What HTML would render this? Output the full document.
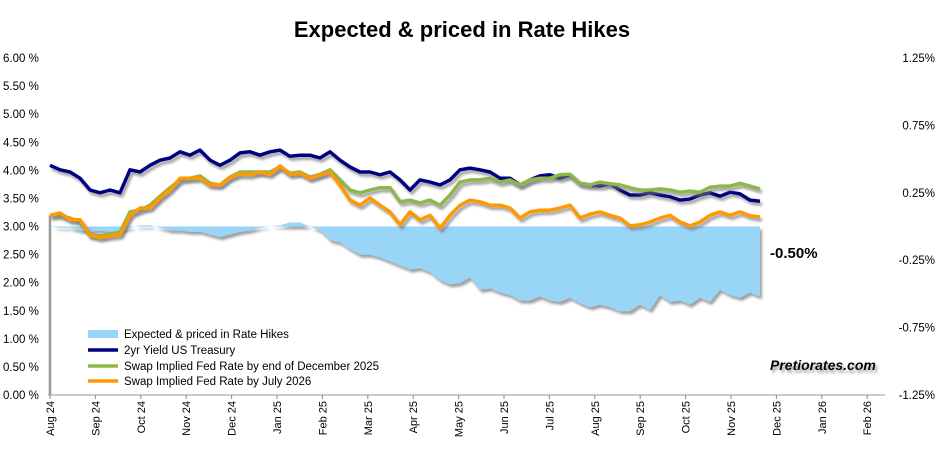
<!DOCTYPE html>
<html><head><meta charset="utf-8"><style>
body{margin:0;background:#fff;font-family:"Liberation Sans",sans-serif}
svg text{font-family:"Liberation Sans",sans-serif}
</style></head><body>
<svg id="chart" width="945" height="452" viewBox="0 0 945 452" xmlns="http://www.w3.org/2000/svg">
<defs><filter id="sh" x="-5%" y="-20%" width="110%" height="140%"><feDropShadow dx="2" dy="3" stdDeviation="1.2" flood-color="#777" flood-opacity="0.7"/></filter></defs>
<text x="462" y="37" text-anchor="middle" font-size="22" font-weight="bold">Expected &amp; priced in Rate Hikes</text>
<g id="axes"></g><g id="marks"></g>
<g font-size="11.5">
<rect x="88" y="330" width="30" height="8" fill="#99d5f7"/>
<text x="124" y="338">Expected &amp; priced in Rate Hikes</text>
<line x1="88" y1="350" x2="118" y2="350" stroke="#000080" stroke-width="3.5"/>
<text x="124" y="354">2yr Yield US Treasury</text>
<line x1="88" y1="366" x2="118" y2="366" stroke="#8db84a" stroke-width="3.5"/>
<text x="124" y="370">Swap Implied Fed Rate by end of December 2025</text>
<line x1="88" y1="381" x2="118" y2="381" stroke="#ff9900" stroke-width="3.5"/>
<text x="124" y="385">Swap Implied Fed Rate by July 2026</text>
</g>
<text x="770" y="258" font-size="15" font-weight="bold">-0.50%</text>
<text x="770" y="370" font-size="14" font-weight="bold" font-style="italic" filter="url(#sh)">Pretiorates.com</text>
</svg>
<script>
const monthLabels=["Aug 24","Sep 24","Oct 24","Nov 24","Dec 24","Jan 25","Feb 25","Mar 25","Apr 25","May 25","Jun 25","Jul 25","Aug 25","Sep 25","Oct 25","Nov 25","Dec 25","Jan 26","Feb 26"];
const leftTicks=[0,0.5,1,1.5,2,2.5,3,3.5,4,4.5,5,5.5,6];
const rightTicks=[-1.25,-0.75,-0.25,0.25,0.75,1.25];
const yield2y=[4.09,4.01,3.97,3.86,3.65,3.60,3.65,3.60,4.01,3.97,4.09,4.18,4.22,4.33,4.27,4.36,4.18,4.09,4.18,4.31,4.33,4.27,4.33,4.36,4.25,4.27,4.27,4.22,4.33,4.18,4.06,3.97,3.97,3.92,3.97,3.83,3.65,3.83,3.79,3.74,3.83,4.01,4.04,4.01,3.97,3.86,3.86,3.74,3.83,3.90,3.92,3.86,3.92,3.77,3.74,3.72,3.76,3.65,3.56,3.56,3.60,3.56,3.53,3.47,3.49,3.56,3.60,3.54,3.61,3.58,3.47,3.45];
const swapDec25=[3.20,3.20,3.15,3.08,2.85,2.83,2.87,2.90,3.26,3.29,3.38,3.54,3.69,3.83,3.86,3.90,3.77,3.74,3.88,3.97,3.97,3.97,3.97,4.06,3.95,3.97,3.88,3.93,4.01,3.83,3.65,3.60,3.65,3.69,3.69,3.44,3.47,3.42,3.47,3.38,3.56,3.79,3.83,3.83,3.86,3.79,3.83,3.74,3.83,3.86,3.86,3.92,3.93,3.77,3.74,3.79,3.76,3.74,3.69,3.65,3.65,3.67,3.65,3.61,3.63,3.61,3.70,3.72,3.72,3.77,3.72,3.67];
const swapJul26=[3.20,3.24,3.12,3.12,2.85,2.80,2.83,2.85,3.20,3.33,3.33,3.51,3.65,3.86,3.86,3.86,3.74,3.74,3.88,3.93,3.92,3.97,3.93,4.08,3.93,3.95,3.86,3.92,3.97,3.74,3.47,3.38,3.51,3.38,3.26,3.03,3.26,3.12,3.20,2.97,3.20,3.38,3.47,3.44,3.38,3.38,3.33,3.15,3.26,3.29,3.29,3.33,3.38,3.15,3.22,3.26,3.20,3.15,3.01,3.03,3.08,3.15,3.20,3.08,3.01,3.08,3.20,3.26,3.20,3.26,3.19,3.17];
const hikes=[0,-0.01,-0.01,-0.03,-0.04,-0.03,-0.04,-0.03,-0.01,0.01,0.01,-0.01,-0.03,-0.03,-0.04,-0.04,-0.06,-0.08,-0.06,-0.04,-0.03,-0.01,0,0.01,0.03,0.03,0,-0.03,-0.10,-0.12,-0.17,-0.21,-0.21,-0.23,-0.26,-0.29,-0.32,-0.31,-0.34,-0.40,-0.43,-0.42,-0.38,-0.47,-0.46,-0.49,-0.51,-0.55,-0.55,-0.52,-0.55,-0.56,-0.53,-0.57,-0.60,-0.58,-0.60,-0.63,-0.63,-0.58,-0.62,-0.51,-0.56,-0.55,-0.58,-0.53,-0.56,-0.47,-0.51,-0.53,-0.49,-0.52];
const OBS_STEP=10/45.4; // months between observations
const NS="http://www.w3.org/2000/svg";
const X0=50,MW=45.4,YT=58,YB=395;
const xM=m=>X0+m*MW;
const yL=v=>YB-(v/6)*(YB-YT);
const yR=v=>YB-((v+1.25)/2.5)*(YB-YT);
function mk(tag,attrs,parent){const e=document.createElementNS(NS,tag);for(const k in attrs)e.setAttribute(k,attrs[k]);parent.appendChild(e);return e;}
const ax=document.getElementById('axes'),mg=document.getElementById('marks');
leftTicks.forEach(v=>{const t=mk('text',{x:3,y:yL(v)+4,'font-size':11.5},ax);t.textContent=v.toFixed(2)+' %';

});
rightTicks.forEach(v=>{const t=mk('text',{x:935,y:yR(v)+4,'font-size':11.5,'text-anchor':'end'},ax);t.textContent=v.toFixed(2)+'%';

});
monthLabels.forEach((l,i)=>{const x=xM(i);const t=mk('text',{x:0,y:0,'font-size':11,'text-anchor':'end',transform:`translate(${x+4},${YB+6}) rotate(-90)`},ax);t.textContent=l;


mk('line',{x1:x,y1:YB,x2:x,y2:YB+4,stroke:'#888'},ax);});
const xl=mk('line',{x1:48,y1:YB,x2:885,y2:YB,stroke:'#999'},ax);


// area
let d=`M${xM(0)},${yR(0)}`;hikes.forEach((v,i)=>d+=` L${xM(i*OBS_STEP).toFixed(1)},${yR(v).toFixed(1)}`);
d+=` L${xM((hikes.length-1)*OBS_STEP).toFixed(1)},${yR(0)} Z`;
const ar=mk('path',{d:d,fill:'#99d5f7',filter:'url(#sh)'},mg);


const sl=mk('line',{x1:X0,y1:yL(3.2),x2:X0,y2:YB,stroke:'#999',"stroke-width":2.5},mg);


function line(arr,col,name){let p='';arr.forEach((v,i)=>p+=(i?' L':'M')+xM(i*OBS_STEP).toFixed(1)+','+yL(v).toFixed(1));
const e=mk('path',{d:p,fill:'none',stroke:col,'stroke-width':3.5,'stroke-linejoin':'round',filter:'url(#sh)'},mg);

}
line(yield2y,'#000080','line-2yr-yield');
line(swapDec25,'#8db84a','line-swap-dec-2025');
line(swapJul26,'#ff9900','line-swap-jul-2026');
</script>
</body></html>
